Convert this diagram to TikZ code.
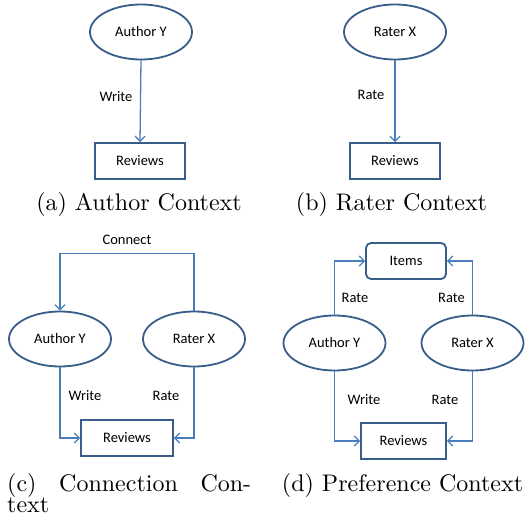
\documentclass[tikz,border=0pt]{standalone}
\usepackage{fontspec}
\newfontfamily\diagfont{Carlito}
\newfontfamily\capfont{lmroman10-regular.otf}
\usetikzlibrary{shapes.geometric,arrows.meta}
\definecolor{bordblue}{HTML}{385D8A}
\definecolor{linkblue}{HTML}{4A7EBB}
\tikzset{
  actor/.style={ellipse,draw=bordblue,line width=1.8pt,minimum width=102pt,minimum height=55pt,inner sep=0pt,font=\diagfont\fontsize{14.5}{17}\selectfont},
  box/.style={rectangle,draw=bordblue,line width=1.8pt,minimum height=36pt,inner sep=0pt,font=\diagfont\fontsize{14.5}{17}\selectfont},
  link/.style={draw=linkblue,line width=1.3pt,-{Straight Barb[length=5pt,width=10pt,line width=1.3pt]}},
  lab/.style={font=\diagfont\fontsize{14.5}{17}\selectfont,inner sep=0pt},
  captxt/.style={font=\capfont\fontsize{24}{21}\selectfont,inner sep=0pt,anchor=base}
}
\begin{document}
\begin{tikzpicture}[x=1pt,y=-1pt]
\useasboundingbox (0,0) rectangle (527,521);
% (a)
\node[actor] (ayA) at (141,32) {Author Y};
\node[box,minimum width=90pt] (revA) at (140,161) {Reviews};
\draw[link] (ayA.south) -- (revA.north);
\node[lab] (wA) at (116,97) {Write};
\node[captxt] (capA) at (139,211) {(a) Author Context};
% (b)
\node[actor] (rxB) at (395,32) {Rater X};
\node[box,minimum width=90pt] (revB) at (395,161) {Reviews};
\draw[link] (rxB.south) -- (revB.north);
\node[lab] (rB) at (371,95) {Rate};
\node[captxt] (capB) at (391.5,211) {(b) Rater Context};
% (c)
\node[actor] (ayC) at (60,339) {Author Y};
\node[actor] (rxC) at (194,339) {Rater X};
\node[box,minimum width=92pt] (revC) at (127,438) {Reviews};
\draw[link] (rxC.north) -- ++(0,-57) -| (ayC.north);
\draw[link] (ayC.south) |- (revC.west);
\draw[link] (rxC.south) |- (revC.east);
\node[lab] (cC) at (127,240) {Connect};
\node[lab] (wC) at (85,396) {Write};
\node[lab] (rC) at (166,396) {Rate};
\node[captxt,anchor=north west,align=left] (capC) at (7,473) {\makebox[244pt][s]{(c) Connection Con-}\\text};
% (d)
\node[box,rounded corners=5pt,minimum width=80pt] (itD) at (406,261) {Items};
\node[actor] (ayD) at (334.5,343) {Author Y};
\node[actor] (rxD) at (472.5,343) {Rater X};
\node[box,minimum width=85pt] (revD) at (403.5,441) {Reviews};
\draw[link] (ayD.north) |- (itD.west);
\draw[link] (rxD.north) |- (itD.east);
\draw[link] (ayD.south) |- (revD.west);
\draw[link] (rxD.south) |- (revD.east);
\node[lab] (rD1) at (355,298) {Rate};
\node[lab] (rD2) at (451.5,298) {Rate};
\node[lab] (wD) at (364,400) {Write};
\node[lab] (rD3) at (445,400) {Rate};
\node[captxt] (capD) at (402.5,491) {(d) Preference Context};
\end{tikzpicture}
\end{document}
